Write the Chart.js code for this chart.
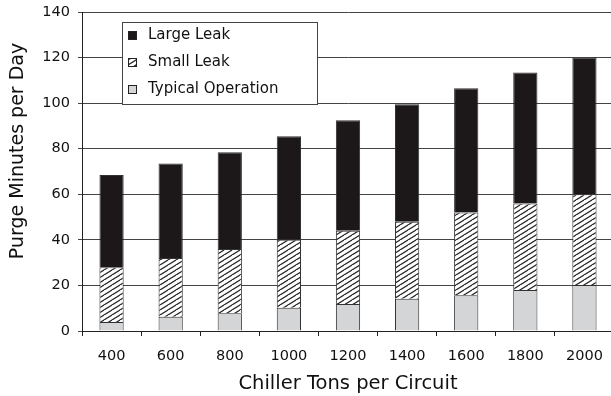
<!DOCTYPE html>
<html>
<head>
<meta charset="utf-8">
<script src="https://cdn.jsdelivr.net/npm/chart.js@4/dist/chart.umd.min.js"></script>
<style>
  html, body { margin: 0; padding: 0; background: #fff; overflow: hidden; }
  #wrap { width: 611px; height: 396px; overflow: hidden; }
</style>
</head>
<body>
<div id="wrap"><canvas id="purgeChart" width="616" height="396"></canvas></div>
<script>
// Chiller sizes on the x axis
const tons = ['400', '600', '800', '1000', '1200', '1400', '1600', '1800', '2000'];

// Purge minutes per day, stacked from the bottom up
const typicalOperation = [4, 6.3, 7.8, 10.2, 11.9, 14.1, 15.7, 18, 20.2];
const smallLeak = [24, 25.7, 28.2, 29.8, 32.1, 33.9, 36.3, 38, 39.8];
const largeLeak = [40.5, 41.5, 42.5, 45.5, 48.5, 51.5, 54.5, 57.5, 60];

const yTicks = [0, 20, 40, 60, 80, 100, 120, 140];

const FONT = 'DejaVu Sans, Verdana, sans-serif';

// diagonal stripes for the small leak segments
function makeHatch() {
  const tile = document.createElement('canvas');
  tile.width = 8;
  tile.height = 5;
  const c = tile.getContext('2d');
  c.fillStyle = '#fff';
  c.fillRect(0, 0, 8, 5);
  c.strokeStyle = '#222';
  c.lineWidth = 1.2;
  c.beginPath();
  c.moveTo(-8, 10); c.lineTo(8, 0);
  c.moveTo(0, 10); c.lineTo(16, 0);
  c.moveTo(-16, 10); c.lineTo(0, 0);
  c.stroke();
  return c.createPattern(tile, 'repeat');
}

const ctx = document.getElementById('purgeChart').getContext('2d');
const hatch = makeHatch();

// legend box inside the plot plus the rotated y title
const boxLegend = {
  id: 'boxLegend',
  afterDraw(chart) {
    const c = chart.ctx;
    const x = 122, y = 22, w = 195, h = 82;
    c.save();
    c.fillStyle = '#fff';
    c.fillRect(x, y, w, h);
    c.strokeStyle = '#444';
    c.lineWidth = 1;
    c.strokeRect(x + 0.5, y + 0.5, w, h);
    const items = [2, 1, 0];
    c.font = '15px ' + FONT;
    c.textBaseline = 'middle';
    items.forEach((di, i) => {
      const ds = chart.data.datasets[di];
      const cy = y + 13.5 + i * 27;
      c.fillStyle = ds.backgroundColor;
      c.fillRect(128, cy - 4.5, 9, 9);
      c.strokeStyle = '#222';
      c.strokeRect(128.5, cy - 4, 8, 8);
      c.fillStyle = '#111';
      c.fillText(ds.label, 148, cy);
    });

    c.translate(18, 151);
    c.rotate(-Math.PI / 2);
    c.textAlign = 'center';
    c.font = '19px ' + FONT;
    c.fillText('Purge Minutes per Day', 0, 0);
    c.restore();
  }
};

new Chart(ctx, {
  type: 'bar',
  data: {
    labels: tons,
    datasets: [
      {
        label: 'Typical Operation',
        data: typicalOperation,
        backgroundColor: '#d3d5d7',
        borderColor: '#333',
        borderWidth: 1,
      },
      {
        label: 'Small Leak',
        data: smallLeak,
        backgroundColor: hatch,
        borderColor: '#333',
        borderWidth: 1,
      },
      {
        label: 'Large Leak',
        data: largeLeak,
        backgroundColor: '#1c1819',
        borderColor: '#333',
        borderWidth: 1,
      },
    ],
  },
  options: {
    responsive: false,
    animation: false,
    layout: { padding: { top: 12, right: 2, bottom: 0, left: 0 } },
    datasets: {
      bar: { categoryPercentage: 1, barPercentage: 0.41 },
    },
    plugins: {
      legend: { display: false },
      tooltip: { enabled: false },
    },
    scales: {
      x: {
        stacked: true,
        grid: {
          offset: true,
          drawOnChartArea: false,
          drawTicks: true,
          tickLength: 5,
          color: '#222',
        },
        border: { color: '#222', width: 1 },
        ticks: {
          color: '#111',
          font: { family: FONT, size: 14.5 },
          padding: 12,
          maxRotation: 0,
        },
        title: {
          display: true,
          text: 'Chiller Tons per Circuit',
          color: '#111',
          font: { family: FONT, size: 19.5 },
          padding: { top: 5, bottom: 0 },
        },
        afterFit(scale) {
          scale.height = 65;
          scale.paddingLeft = 0;
          scale.paddingRight = 0;
        },
      },
      y: {
        stacked: true,
        min: 0,
        max: 140,
        afterBuildTicks(scale) {
          scale.ticks = yTicks.map(v => ({ value: v }));
        },
        grid: {
          color: '#444',
          lineWidth: 1,
          tickLength: 4,
        },
        border: { color: '#222', width: 1 },
        ticks: {
          color: '#111',
          font: { family: FONT, size: 14.5 },
          padding: 8,
        },
        afterFit(scale) {
          scale.width = 82;
          scale.paddingTop = 0;
          scale.paddingBottom = 0;
        },
      },
    },
  },
  plugins: [boxLegend],
});
</script>
</body>
</html>
